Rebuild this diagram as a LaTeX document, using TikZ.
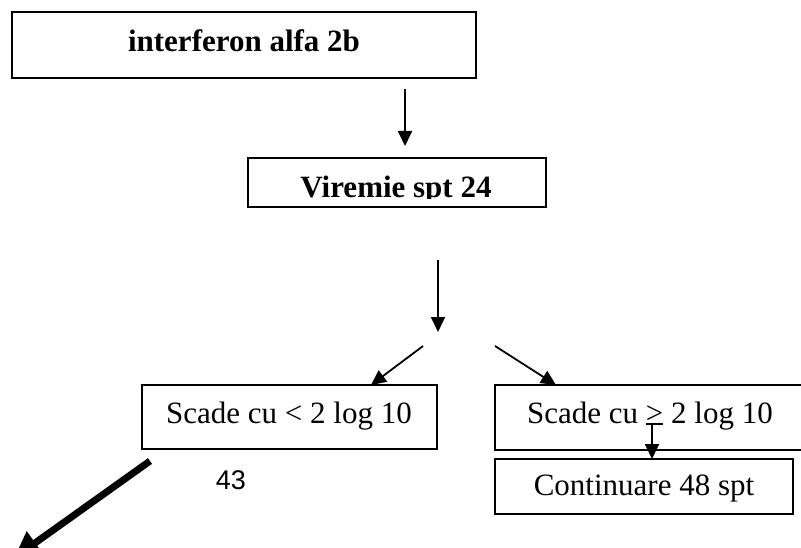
\documentclass[tikz,border=0pt]{standalone}
\usepackage{fontspec}
\setmainfont{Liberation Serif}
\newfontfamily\arialfont{Liberation Sans}
\usetikzlibrary{arrows.meta}
\newcommand{\gtunder}{\ooalign{\textgreater\cr\rule[-1.5pt]{0.564em}{1.3pt}}}
\begin{document}
\begin{tikzpicture}[x=1pt,y=-1pt,
  boxstyle/.style={draw=black,line width=1.6pt},
  txt/.style={anchor=base,inner sep=0pt,font=\fontsize{31}{36}\selectfont},
  thinarrow/.style={line width=1.8pt,-{Triangle[length=15pt,width=14pt]}},
  thickarrow/.style={line width=7pt,-{Triangle[length=26pt,width=27pt]}}]
\useasboundingbox (0,0) rectangle (801,548);
\clip (0,0) rectangle (801,548);
% boxes
\draw[boxstyle] (12,12) rectangle (476,78);
\node[txt,font=\fontsize{31}{36}\selectfont\bfseries] (t1) at (244,52) {interferon alfa 2b};
\draw[boxstyle] (248,158) rectangle (546,207);
\begin{scope}
\clip (248,158) rectangle (546,198.5);
\node[txt,font=\fontsize{31}{36}\selectfont\bfseries] (t2) at (396,198) {Viremie spt 24};
\end{scope}
\draw[boxstyle] (142,385) rectangle (437,449);
\node[txt] (t3) at (289,423) {Scade cu < 2 log 10};
\draw[boxstyle] (495,385) rectangle (815,450);
\node[txt] (t4) at (650,423) {Scade cu \gtunder{} 2 log 10};
\draw[boxstyle] (495,459) rectangle (793,514);
\node[txt] (t5) at (644,495) {Continuare 48 spt};
\node[anchor=base,inner sep=0pt,font=\arialfont\fontsize{27}{30}\selectfont] (n43) at (231,489) {43};
% connector coordinates
\coordinate (a1s) at (405,89);
\coordinate (a1e) at (405,146);
\coordinate (a2s) at (438,260);
\coordinate (a2e) at (438,332);
\coordinate (a3s) at (423,346);
\coordinate (a3e) at (371,385);
\coordinate (a4s) at (495,346);
\coordinate (a4e) at (556,385);
\coordinate (a5s) at (652,423);
\coordinate (a5e) at (652,459);
\coordinate (a6s) at (150,461);
\coordinate (a6e) at (14,558);
\draw[thinarrow] (a1s) -- (a1e);
\draw[thinarrow] (a2s) -- (a2e);
\draw[thinarrow] (a3s) -- (a3e);
\draw[thinarrow] (a4s) -- (a4e);
\draw[thinarrow] (a5s) -- (a5e);
\draw[thickarrow] (a6s) -- (a6e);
\end{tikzpicture}
\end{document}
